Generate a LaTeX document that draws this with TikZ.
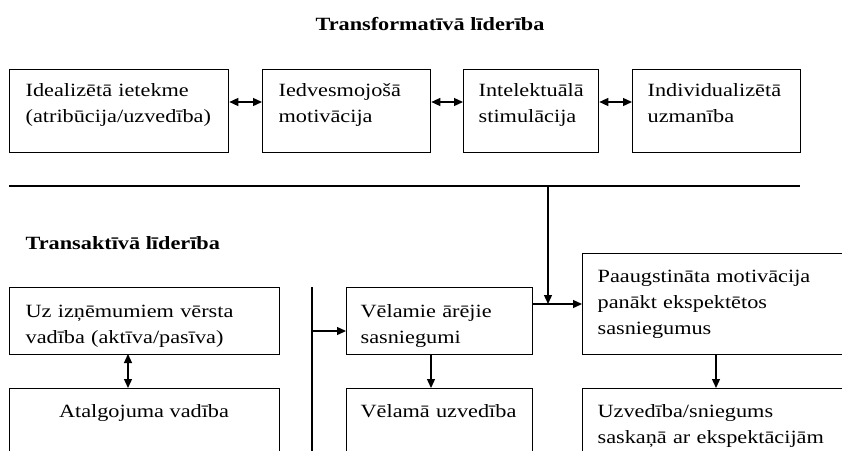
\documentclass[tikz,border=0pt]{standalone}
\usepackage{fontspec}
\setmainfont{Liberation Serif}[FakeStretch=1.19]
\usetikzlibrary{arrows.meta,calc}
\begin{document}
\begin{tikzpicture}[x=1pt,y=-1pt,
  line width=1.3pt,
  box/.style={draw,line width=1.3pt,anchor=north west,inner sep=0pt},
  txt/.style={anchor=base west,inner sep=0pt,text width=300pt,align=left,
    font=\fontsize{18.7}{26}\selectfont},
  txtc/.style={anchor=base,inner sep=0pt,font=\fontsize{18.7}{26}\selectfont},
  ttl/.style={inner sep=0pt,font=\fontsize{18.7}{26}\selectfont\bfseries},
  dbl/.style={{Triangle[length=9pt,width=8pt]}-{Triangle[length=9pt,width=8pt]}},
  arr/.style={-{Triangle[length=9pt,width=8pt]}}]
\path[use as bounding box,clip] (0,0) rectangle (842,450);
% title
\node[ttl,anchor=base] (title) at (430,30) {Transformatīvā līderība};
% top boxes
\node[box,minimum width=219pt,minimum height=83pt] (b1) at (9,69) {};
\node[box,minimum width=168pt,minimum height=83pt] (b2) at (262,69) {};
\node[box,minimum width=135pt,minimum height=83pt] (b3) at (463,69) {};
\node[box,minimum width=168pt,minimum height=83pt] (b4) at (632,69) {};
\node[txt] (t1) at (25,96) {Idealizētā ietekme\\(atribūcija/uzvedība)};
\node[txt] (t2) at (278,96) {Iedvesmojošā\\motivācija};
\node[txt] (t3) at (478,96) {Intelektuālā\\stimulācija};
\node[txt] (t4) at (647,96) {Individualizētā\\uzmanība};
\draw[dbl] ($(b1.north east)+(0,33)$) -- ($(b2.north west)+(0,33)$);
\draw[dbl] ($(b2.north east)+(0,33)$) -- ($(b3.north west)+(0,33)$);
\draw[dbl] ($(b3.north east)+(0,33)$) -- ($(b4.north west)+(0,33)$);
% separator line
\coordinate (hl) at (9,186);
\coordinate (hr) at (800,186);
\coordinate (hj) at (548,186);
\draw (hl) -- (hr);
% transactional
\node[ttl,anchor=base west] (title2) at (25,249) {Transaktīvā līderība};
\node[box,minimum width=270pt,minimum height=67pt] (a1) at (9,287) {};
\node[box,minimum width=270pt,minimum height=80pt] (a2) at (9,388) {};
\node[txt] (ta1) at (25,317) {Uz izņēmumiem vērsta\\vadība (aktīva/pasīva)};
\node[txtc] (ta2) at (144,417) {Atalgojuma vadība};
\coordinate (ab) at (128,354);
\draw[dbl] (ab) -- (ab |- a2.north);
% middle column
\coordinate (vt) at (312,287);
\coordinate (vb) at (312,460);
\draw (vt) -- (vb);
\node[box,minimum width=186pt,minimum height=67pt] (v1) at (346,287) {};
\node[box,minimum width=186pt,minimum height=80pt] (v2) at (346,388) {};
\node[txt] (tv1) at (360,317) {Vēlamie ārējie\\sasniegumi};
\node[txt] (tv2) at (360,417) {Vēlamā uzvedība};
\coordinate (va) at (312,331);
\draw[arr] (va) -- (va -| v1.west);
\draw[arr] ($(v1.south west)+(85,0)$) -- ($(v2.north west)+(85,0)$);
% right column
\node[box,minimum width=280pt,minimum height=101pt] (p1) at (582,253) {};
\node[box,minimum width=280pt,minimum height=80pt] (p2) at (582,388) {};
\node[txt] (tp1) at (597,282) {Paaugstināta motivācija\\panākt ekspektētos\\sasniegumus};
\node[txt] (tp2) at (597,417) {Uzvedība/sniegums\\saskaņā ar ekspektācijām};
\coordinate (m) at (548,304);
\draw[arr] (hj) -- (m);
\draw[arr] (m -| v1.east) -- (m -| p1.west);
\draw[arr] ($(p1.south west)+(134,0)$) -- ($(p2.north west)+(134,0)$);
\end{tikzpicture}
\end{document}
